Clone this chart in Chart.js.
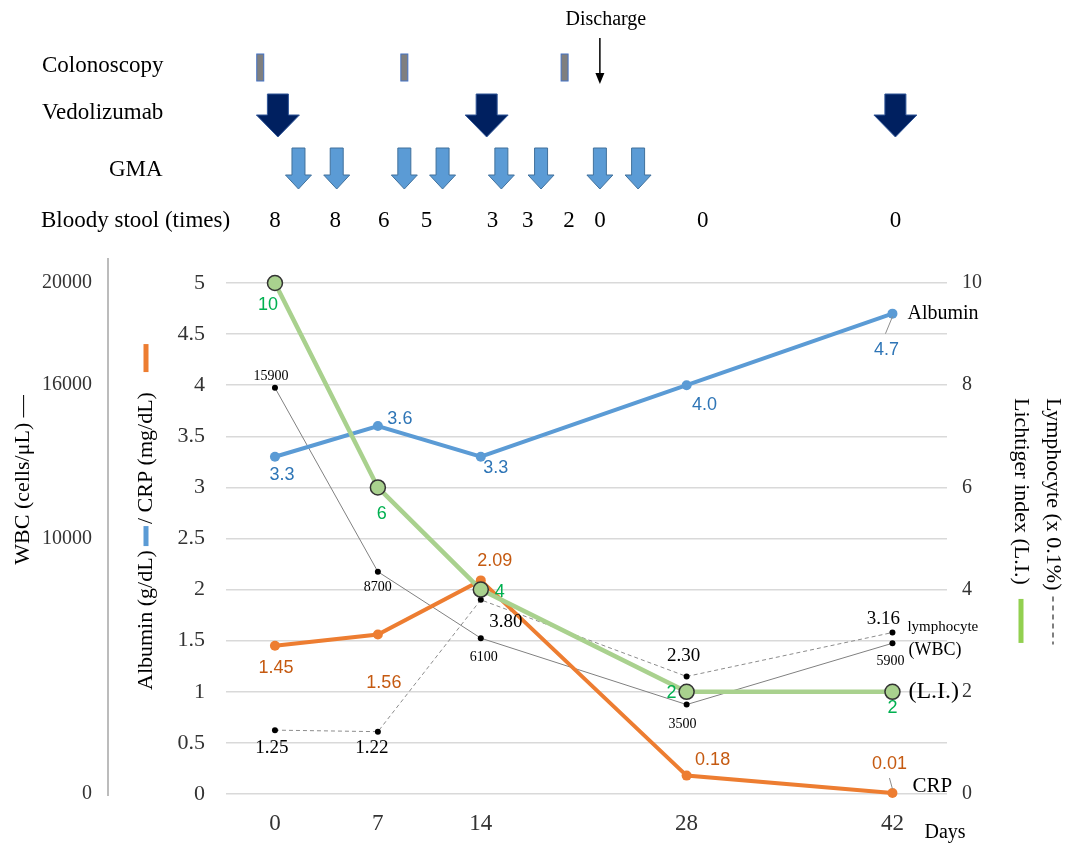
<!DOCTYPE html>
<html><head><meta charset="utf-8">
<script src="https://cdn.jsdelivr.net/npm/chart.js@4/dist/chart.umd.min.js"></script>
<style>html,body{margin:0;padding:0;background:#fff;}canvas{display:block;}</style>
</head><body>
<canvas id="c" width="1068" height="846"></canvas>
<script>
// ---- data ----
const days = [0, 7, 14, 28, 42];
const xTickDays = [0, 7, 14, 28, 42];
const albumin = [3.3, 3.6, 3.3, 4.0, 4.7];
const crp = [1.45, 1.56, 2.09, 0.18, 0.01];
const wbc = [15900, 8700, 6100, 3500, 5900];
const lymphocyte = [1.25, 1.22, 3.80, 2.30, 3.16];
const lichtiger = [10, 6, 4, 2, 2];
const wbcTicks = [0, 10000, 16000, 20000];

// header timeline (days)
const colonoscopyDays = [-1, 8.8, 19.7];
const vedolizumabDays = [0.2, 14.4, 42.2];
const gmaDays = [1.6, 4.2, 8.8, 11.4, 15.4, 18.1, 22.1, 24.7];
const stoolDays = [0, 4.1, 7.4, 10.3, 14.8, 17.2, 20.0, 22.1, 29.1, 42.2];
const stoolCounts = [8, 8, 6, 5, 3, 3, 2, 0, 0, 0];
const dischargeDay = 22.1;

const SERIF = '"Liberation Serif", "Times New Roman", serif';
const SANS = '"Liberation Sans", Arial, sans-serif';

const pts = arr => days.map((d, i) => ({x: d, y: arr[i]}));

// label styling (positions relative to points)
const labelCfg = {
  'WBC': {color:'#000', font:'14px ' + SERIF, dec:0, off:[[-4,-11],[0,16],[3,19],[-4,20],[-2,18]]},
  'Lymphocyte': {color:'#000', font:'19px ' + SERIF, dec:2, off:[[-3,18],[-6,16],[25,22],[-3,-20],[-9,-14]]},
  'Albumin': {color:'#2E75B6', font:'18px ' + SANS, dec:1, off:[[7,18],[22,-7],[15,11],[18,20],[-6,36]]},
  'CRP': {color:'#C55A11', font:'18px ' + SANS, dec:2, off:[[1,22],[6,48],[14,-19],[26,-16],[-3,-29]]},
  'Lichtiger': {color:'#00B050', font:'18px ' + SANS, dec:0, off:[[-7,22],[4,27],[19,2],[-15,1],[0,16]]}
};
const endNames = [
  {ds:'Albumin', text:'Albumin', font:'20px ' + SERIF, dx:15, dy:0},
  {ds:'Lymphocyte', text:'lymphocyte', font:'15px ' + SERIF, dx:15, dy:-5},
  {ds:'WBC', text:'(WBC)', font:'18px ' + SERIF, dx:16, dy:7},
  {ds:'Lichtiger', text:'(L.I.)', font:'24px ' + SERIF, dx:16, dy:0},
  {ds:'CRP', text:'CRP', font:'21px ' + SERIF, dx:20, dy:-6}
];

function arrow(ctx, cx, top, shaftW, headY, headW, tip, fill, stroke) {
  ctx.beginPath();
  ctx.moveTo(cx - shaftW/2, top);
  ctx.lineTo(cx + shaftW/2, top);
  ctx.lineTo(cx + shaftW/2, headY);
  ctx.lineTo(cx + headW/2, headY);
  ctx.lineTo(cx, tip);
  ctx.lineTo(cx - headW/2, headY);
  ctx.lineTo(cx - shaftW/2, headY);
  ctx.closePath();
  ctx.fillStyle = fill; ctx.fill();
  ctx.strokeStyle = stroke; ctx.lineWidth = 1; ctx.stroke();
}

function rotatedText(ctx, text, x, y, angle, font, color, align) {
  ctx.save();
  ctx.translate(x, y); ctx.rotate(angle);
  ctx.font = font; ctx.fillStyle = color; ctx.textAlign = align || 'center'; ctx.textBaseline = 'middle';
  ctx.fillText(text, 0, 0);
  ctx.restore();
}

const decor = {
  id: 'decor',
  afterDraw(chart) {
    const ctx = chart.ctx;
    const xs = chart.scales.x;
    const X = d => xs.getPixelForValue(d);
    ctx.save();

    // ---- header ----
    ctx.fillStyle = '#000'; ctx.textBaseline = 'middle'; ctx.textAlign = 'left';
    ctx.font = '23px ' + SERIF;
    ctx.fillText('Colonoscopy', 42, 66);
    ctx.fillText('Vedolizumab', 42, 113);
    ctx.fillText('GMA', 109, 170);
    ctx.fillText('Bloody stool (times)', 41, 221);

    colonoscopyDays.forEach(d => {
      const cx = X(d);
      ctx.fillStyle = '#7f7f7f'; ctx.fillRect(cx - 3.5, 54, 7, 27);
      ctx.strokeStyle = '#4472C4'; ctx.lineWidth = 1; ctx.strokeRect(cx - 3.5, 54, 7, 27);
    });
    vedolizumabDays.forEach(d => arrow(ctx, X(d), 94, 21, 115, 43, 137, '#002060', '#2F5597'));
    gmaDays.forEach(d => arrow(ctx, X(d), 148, 13, 175, 26, 189, '#5B9BD5', '#41719C'));

    ctx.fillStyle = '#000'; ctx.font = '23px ' + SERIF; ctx.textAlign = 'center';
    stoolDays.forEach((d, i) => ctx.fillText(String(stoolCounts[i]), X(d), 221));

    // discharge
    const dx = X(dischargeDay);
    ctx.font = '20px ' + SERIF; ctx.fillText('Discharge', dx + 6, 20);
    ctx.strokeStyle = '#000'; ctx.lineWidth = 1.5;
    ctx.beginPath(); ctx.moveTo(dx, 38); ctx.lineTo(dx, 76); ctx.stroke();
    ctx.beginPath(); ctx.moveTo(dx - 4.5, 73); ctx.lineTo(dx + 4.5, 73); ctx.lineTo(dx, 84); ctx.closePath();
    ctx.fillStyle = '#000'; ctx.fill();

    // ---- WBC axis line ----
    const yW = chart.scales.yW;
    ctx.strokeStyle = '#a6a6a6'; ctx.lineWidth = 1.5;
    ctx.beginPath(); ctx.moveTo(yW.right, 258); ctx.lineTo(yW.right, 796); ctx.stroke();

    // ---- axis titles ----
    rotatedText(ctx, 'WBC (cells/\u03bcL) \u2014', 23, 480, -Math.PI/2, '22px ' + SERIF, '#000');
    // albumin / CRP composite title (reads bottom to top)
    ctx.save();
    ctx.translate(146, 690); ctx.rotate(-Math.PI/2);
    ctx.font = '22px ' + SERIF; ctx.fillStyle = '#000'; ctx.textBaseline = 'middle'; ctx.textAlign = 'left';
    let p = 0;
    const t1 = 'Albumin (g/dL)';
    ctx.fillText(t1, p, 0); p += ctx.measureText(t1).width + 4;
    ctx.fillStyle = '#5B9BD5'; ctx.fillRect(p, -2.5, 20, 5); p += 22;
    ctx.fillStyle = '#000';
    const t2 = '/ CRP (mg/dL)';
    ctx.fillText(t2, p, 0); p += ctx.measureText(t2).width + 20;
    ctx.fillStyle = '#ED7D31'; ctx.fillRect(p, -2.5, 28, 5);
    ctx.restore();

    // right titles (read top to bottom)
    ctx.save();
    ctx.translate(1053, 398); ctx.rotate(Math.PI/2);
    ctx.font = '22px ' + SERIF; ctx.fillStyle = '#000'; ctx.textBaseline = 'middle'; ctx.textAlign = 'left';
    const r1 = 'Lymphocyte (x 0.1%)';
    ctx.fillText(r1, 0, 0);
    let q = ctx.measureText(r1).width + 6;
    ctx.strokeStyle = '#7f7f7f'; ctx.lineWidth = 2; ctx.setLineDash([5, 4]);
    ctx.beginPath(); ctx.moveTo(q, 0); ctx.lineTo(q + 48, 0); ctx.stroke();
    ctx.setLineDash([]);
    ctx.restore();

    ctx.save();
    ctx.translate(1021, 398); ctx.rotate(Math.PI/2);
    ctx.font = '22px ' + SERIF; ctx.fillStyle = '#000'; ctx.textBaseline = 'middle'; ctx.textAlign = 'left';
    const r2 = 'Lichtiger index (L.I.)';
    ctx.fillText(r2, 0, 0);
    q = ctx.measureText(r2).width + 14;
    ctx.fillStyle = '#92D050'; ctx.fillRect(q, -2.5, 44, 5);
    ctx.restore();

    // ---- data labels ----
    chart.data.datasets.forEach((ds, i) => {
      const cfg = labelCfg[ds.label];
      if (!cfg) return;
      const meta = chart.getDatasetMeta(i);
      ctx.font = cfg.font; ctx.fillStyle = cfg.color; ctx.textAlign = 'center'; ctx.textBaseline = 'middle';
      meta.data.forEach((el, j) => {
        const v = ds.data[j].y;
        const o = cfg.off[j];
        ctx.fillText(v.toFixed(cfg.dec), el.x + o[0], el.y + o[1]);
      });
    });

    // leader lines
    const metaOf = name => chart.getDatasetMeta(chart.data.datasets.findIndex(d => d.label === name));
    ctx.strokeStyle = '#8c8c8c'; ctx.lineWidth = 1;
    let e = metaOf('Albumin').data[4];
    ctx.beginPath(); ctx.moveTo(e.x, e.y + 3); ctx.lineTo(e.x - 7, e.y + 20); ctx.stroke();
    e = metaOf('CRP').data[4];
    ctx.beginPath(); ctx.moveTo(e.x - 3, e.y - 15); ctx.lineTo(e.x, e.y - 4); ctx.stroke();

    // series names at the end
    endNames.forEach(n => {
      const el = metaOf(n.ds).data[4];
      ctx.font = n.font; ctx.fillStyle = '#000'; ctx.textAlign = 'left'; ctx.textBaseline = 'middle';
      ctx.fillText(n.text, el.x + n.dx, el.y + n.dy);
    });

    // "Days"
    ctx.font = '20px ' + SERIF; ctx.fillStyle = '#000'; ctx.textAlign = 'center';
    ctx.fillText('Days', 945, 833);

    ctx.restore();
  }
};

const tickColor = '#333';

new Chart(document.getElementById('c'), {
  type: 'line',
  data: {
    datasets: [
      {label:'WBC', data: pts(wbc), yAxisID:'yW', borderColor:'#808080', borderWidth:1, clip:false,
       pointRadius:3, pointBackgroundColor:'#000', pointBorderWidth:0, order:5},
      {label:'Lymphocyte', data: pts(lymphocyte), yAxisID:'y2', borderColor:'#8c8c8c', borderWidth:1, borderDash:[4,3], clip:false,
       pointRadius:3, pointBackgroundColor:'#000', pointBorderWidth:0, order:4},
      {label:'Albumin', data: pts(albumin), yAxisID:'y', borderColor:'#5B9BD5', borderWidth:4, clip:false,
       pointRadius:5, pointBackgroundColor:'#5B9BD5', pointBorderWidth:0, order:3},
      {label:'CRP', data: pts(crp), yAxisID:'y', borderColor:'#ED7D31', borderWidth:4, clip:false,
       pointRadius:5, pointBackgroundColor:'#ED7D31', pointBorderWidth:0, order:2},
      {label:'Lichtiger', data: pts(lichtiger), yAxisID:'y2', borderColor:'#A9D18E', borderWidth:4.5, clip:false,
       pointRadius:7.5, pointBackgroundColor:'#A9D18E', pointBorderColor:'#333', pointBorderWidth:1.5, order:1}
    ]
  },
  options: {
    responsive: false,
    animation: false,
    devicePixelRatio: 1,
    layout: {padding: {top: 283, left: 0, right: 0, bottom: 0}},
    plugins: {legend: {display:false}, tooltip: {enabled:false}},
    elements: {line: {tension: 0}},
    scales: {
      x: {
        type:'linear', min:-3.33, max:45.71,
        afterBuildTicks: s => { s.ticks = xTickDays.map(v => ({value:v})); },
        afterFit: s => { s.height = 52; },
        ticks: {font:{family:SERIF, size:23}, color:tickColor, padding:8, maxRotation:0, autoSkip:false, callback: v => String(v)},
        grid: {display:false}, border: {display:false}
      },
      y: {
        position:'left', weight:0, min:0, max:5,
        afterFit: s => { s.width = 118; },
        ticks: {stepSize:0.5, font:{family:SERIF, size:22}, color:tickColor, padding:21, callback: v => String(v)},
        grid: {color:'#d9d9d9', lineWidth:1.5, drawTicks:false}, border: {display:false}
      },
      yW: {
        position:'left', weight:1, min:0, max:20000,
        afterBuildTicks: s => { s.ticks = wbcTicks.map(v => ({value:v})); },
        afterFit: s => { s.width = 108; },
        ticks: {font:{family:SERIF, size:20}, color:tickColor, padding:16, callback: v => String(v)},
        grid: {display:false, drawTicks:false}, border: {display:false}
      },
      y2: {
        position:'right', min:0, max:10,
        afterFit: s => { s.width = 121; },
        ticks: {stepSize:2, font:{family:SERIF, size:20}, color:tickColor, padding:15, callback: v => String(v)},
        grid: {display:false, drawTicks:false}, border: {display:false}
      }
    }
  },
  plugins: [decor]
});
</script>
</body></html>
